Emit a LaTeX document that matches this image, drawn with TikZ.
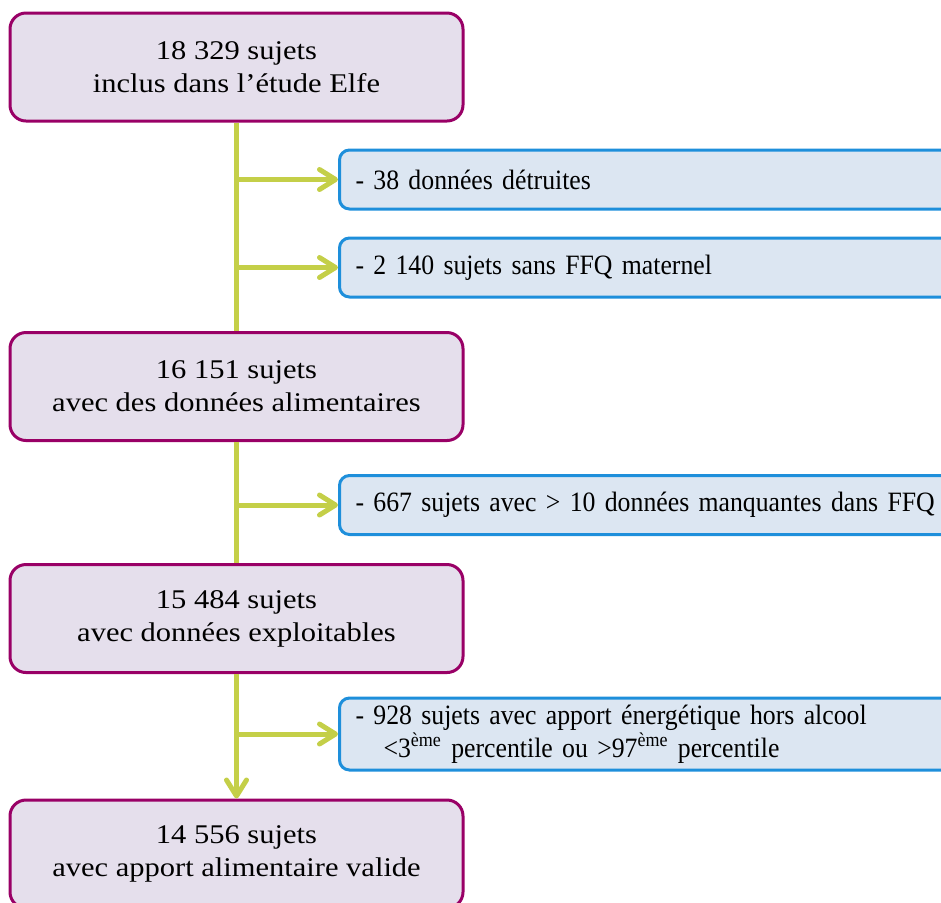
\documentclass[tikz,border=0pt]{standalone}
\usepackage{fontspec}
\setmainfont[FakeStretch=1.13]{Liberation Serif}
\newfontfamily\condserif[FakeStretch=0.92, WordSpace=0.6]{Liberation Serif}
\usetikzlibrary{arrows.meta}
\definecolor{boxpurple}{RGB}{153,0,102}
\definecolor{fillpurple}{RGB}{229,223,236}
\definecolor{boxblue}{RGB}{30,143,219}
\definecolor{fillblue}{RGB}{220,230,242}
\definecolor{flowgreen}{RGB}{196,207,72}
\tikzstyle{mainbox}=[draw=boxpurple, fill=fillpurple, line width=1.5pt, rounded corners=8pt, minimum width=226.5pt, minimum height=54pt, align=center, font=\fontsize{13.5}{16.5}\selectfont]
\tikzstyle{exclbox}=[draw=boxblue, fill=fillblue, line width=1.5pt, rounded corners=5pt, minimum width=305pt, minimum height=29.5pt, anchor=west, align=left, text width=300pt, inner xsep=8pt, font=\condserif\fontsize{14}{16.5}\selectfont]
\tikzstyle{flow}=[draw=flowgreen, line width=2.5pt]
\tikzstyle{arrow}=[flow, -{Straight Barb[length=8pt, width=10pt, round]}]

\begin{document}
\begin{tikzpicture}[x=0.5pt, y=-0.5pt]
		   \useasboundingbox (0,0) rectangle (941,902);
		   \begin{scope}
			   \node (incl) at (236.5, 67)[mainbox] {18 329 sujets\\inclus dans l’étude Elfe};
			   \node (alim) at (236.5, 386.5)[mainbox] {16 151 sujets\\avec des données alimentaires};
			   \node (expl) at (236.5, 618.5)[mainbox] {15 484 sujets\\avec données exploitables};
			   \node (valid) at (236.5, 854)[mainbox] {14 556 sujets\\avec apport alimentaire valide};
			   \node (excl1) at (338, 179.5)[exclbox] {- 38 données détruites};
			   \node (excl2) at (338, 267.5)[exclbox] {- 2 140 sujets sans FFQ maternel};
			   \node (excl3) at (338, 505)[exclbox] {- 667 sujets avec > 10 données manquantes dans FFQ};
			   \node (excl4) at (338, 734)[exclbox, minimum height=36pt] {- 928 sujets avec apport énergétique hors alcool\\\hspace*{14pt}<3\textsuperscript{ème} percentile ou >97\textsuperscript{ème} percentile};
		   \end{scope}
		   \begin{scope}
			   \path [flow] (incl.south) -- (alim.north);
			   \path [flow] (alim.south) -- (expl.north);
			   \path [arrow] (expl.south) -- (valid.north);
			   \path [arrow] (incl.south |- excl1.west) -- (excl1.west);
			   \path [arrow] (incl.south |- excl2.west) -- (excl2.west);
			   \path [arrow] (alim.south |- excl3.west) -- (excl3.west);
			   \path [arrow] (expl.south |- excl4.west) -- (excl4.west);
		   \end{scope}
	   \end{tikzpicture}
\end{document}
